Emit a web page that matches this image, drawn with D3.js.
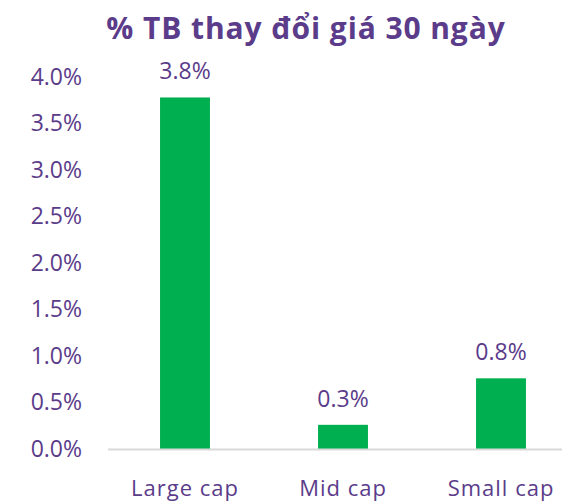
<!DOCTYPE html>
<html>
<head>
<meta charset="utf-8">
<script src="https://cdn.jsdelivr.net/npm/d3@7"></script>
<style>
  body { margin: 0; background: #fff; }
  text { font-family: "Open Sans", Lato, sans-serif; }
</style>
</head>
<body>
<div id="chart"></div>
<script>
const categories = ["Large cap", "Mid cap", "Small cap"];
const values = [3.78, 0.26, 0.76];
const valueLabels = ["3.8%", "0.3%", "0.8%"];
const yTicks = [0, 0.5, 1, 1.5, 2, 2.5, 3, 3.5, 4];

const W = 562, H = 501;
const purple = "#5b3c8a";
const font = "'Open Sans', Lato, sans-serif";

const svg = d3.select("#chart").append("svg")
  .attr("width", W).attr("height", H);

const x = d3.scaleBand()
  .domain(categories)
  .range([106, 580])
  .paddingInner(0.684)
  .paddingOuter(0.342);

const y = d3.scaleLinear()
  .domain([0, 4])
  .range([449, 77]);

// title
svg.append("text")
  .attr("x", 306).attr("y", 39)
  .attr("text-anchor", "middle")
  .attr("fill", purple)
  .style("font-size", "30px")
  .style("font-weight", "bold")
  .style("letter-spacing", "0.9px")
  .text("% TB thay đổi giá 30 ngày");

// y axis labels
const yAxis = svg.append("g")
  .attr("transform", "translate(82,0)")
  .call(d3.axisLeft(y).tickValues(yTicks).tickSize(0).tickPadding(0)
    .tickFormat(d => d.toFixed(1) + "%"));
yAxis.select(".domain").remove();
yAxis.selectAll("text")
  .attr("fill", purple)
  .style("font-size", "23px")
  .style("font-family", font);

// bars
svg.selectAll("rect.bar")
  .data(values)
  .enter().append("rect")
  .attr("class", "bar")
  .attr("x", (d, i) => x(categories[i]))
  .attr("y", d => y(d))
  .attr("width", x.bandwidth())
  .attr("height", d => y(0) - y(d))
  .attr("fill", "#00b050");

// value labels
svg.selectAll("text.val")
  .data(values)
  .enter().append("text")
  .attr("class", "val")
  .attr("x", (d, i) => x(categories[i]) + x.bandwidth() / 2)
  .attr("y", d => y(d) - 18)
  .attr("text-anchor", "middle")
  .attr("fill", purple)
  .style("font-size", "23px")
  .text((d, i) => valueLabels[i]);

// x axis
const xAxis = svg.append("g")
  .attr("transform", `translate(0,${y(0)})`)
  .call(d3.axisBottom(x).tickSize(0).tickPadding(31));
xAxis.select(".domain")
  .attr("d", "M108,0.5H562")
  .attr("stroke", "#d9d9d9")
  .attr("stroke-width", 2);
xAxis.selectAll("text")
  .attr("fill", purple)
  .style("font-size", "22px")
  .style("letter-spacing", "1px")
  .style("font-family", font);
</script>
</body>
</html>
